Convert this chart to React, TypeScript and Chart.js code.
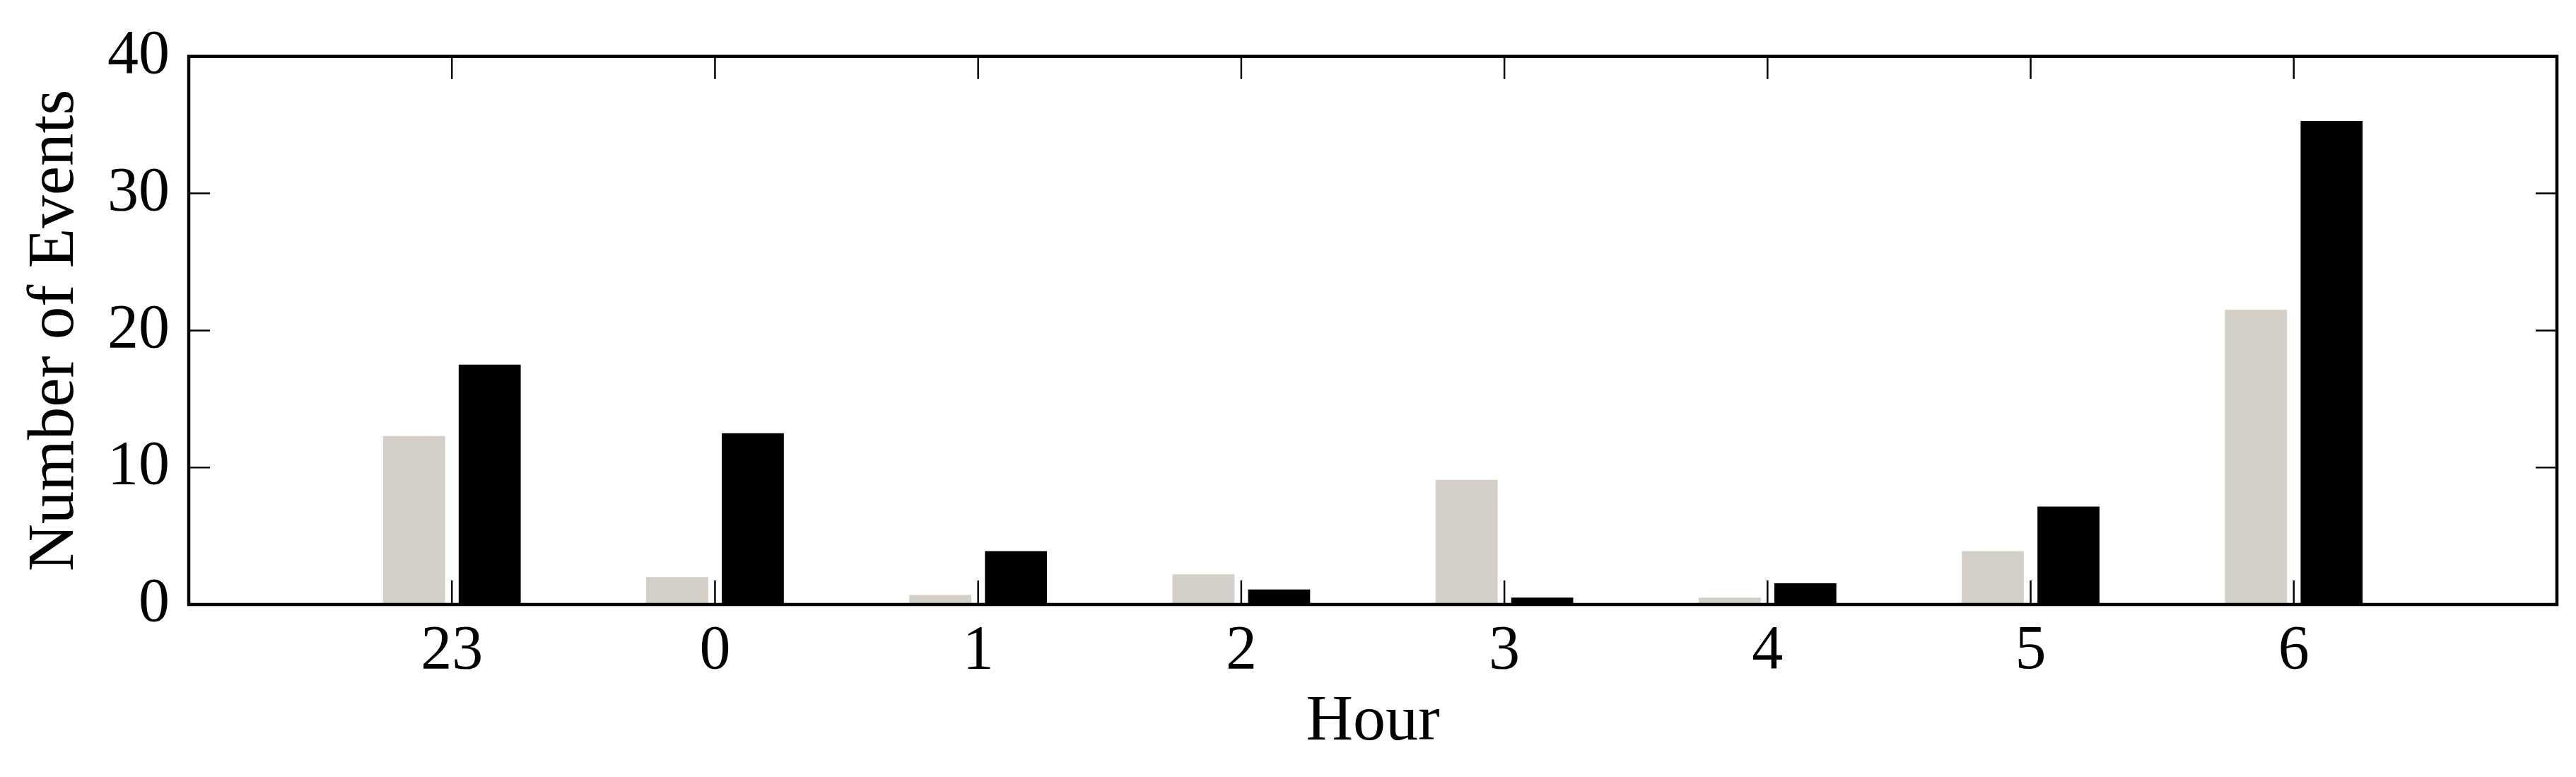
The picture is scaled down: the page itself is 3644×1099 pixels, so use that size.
import React, { useEffect, useRef } from "react";
import { Chart, registerables } from "chart.js";

Chart.register(...registerables);

const hours: string[] = ["23", "0", "1", "2", "3", "4", "5", "6"];
const seriesGray: number[] = [12.3, 2.0, 0.7, 2.2, 9.1, 0.5, 3.9, 21.5];
const seriesBlack: number[] = [17.5, 12.5, 3.9, 1.1, 0.5, 1.55, 7.15, 35.3];
const yTicks: number[] = [0, 10, 20, 30, 40];

const W = 3644;
const H = 1099;
const FONT = "'Liberation Serif', 'Times New Roman', serif";

const framePlugin = {
  id: "frameTicks",
  afterDatasetsDraw(chart: any) {
    const { ctx, chartArea, scales } = chart;
    const { left, right, top, bottom } = chartArea;
    ctx.save();
    ctx.strokeStyle = "#000";
    ctx.lineWidth = 2.5;
    const xs = scales.x;
    xs.ticks.forEach((t: any, i: number) => {
      const lbl = xs.getLabelForValue(t.value);
      if (!lbl) return;
      const px = xs.getPixelForTick(i);
      ctx.beginPath();
      ctx.moveTo(px, bottom);
      ctx.lineTo(px, bottom - 34);
      ctx.moveTo(px, top);
      ctx.lineTo(px, top + 32);
      ctx.stroke();
    });
    const ys = scales.y;
    ys.ticks.forEach((t: any, i: number) => {
      const py = ys.getPixelForTick(i);
      ctx.beginPath();
      ctx.moveTo(left, py);
      ctx.lineTo(left + 30, py);
      ctx.moveTo(right, py);
      ctx.lineTo(right - 30, py);
      ctx.stroke();
    });
    ctx.lineWidth = 4.5;
    ctx.strokeRect(left, top, right - left, bottom - top);
    ctx.restore();
  },
};

export default function App() {
  const ref = useRef<HTMLCanvasElement | null>(null);
  useEffect(() => {
    document.body.style.margin = "0";
    const labels = ["", ...hours, ""];
    const gray = [null, ...seriesGray, null];
    const black = [null, ...seriesBlack, null];
    const chart = new Chart(ref.current as HTMLCanvasElement, {
      type: "bar",
      data: {
        labels,
        datasets: [
          {
            label: "A",
            data: gray as any,
            backgroundColor: "#d4d0c8",
            categoryPercentage: 0.575,
            barPercentage: 0.82,
          },
          {
            label: "B",
            data: black as any,
            backgroundColor: "#000000",
            categoryPercentage: 0.575,
            barPercentage: 0.82,
          },
        ],
      },
      options: {
        animation: false,
        responsive: false,
        maintainAspectRatio: false,
        layout: { padding: { top: 66, right: 27, left: 0, bottom: 0 } },
        plugins: {
          legend: { display: false },
          tooltip: { enabled: false },
        },
        scales: {
          x: {
            type: "category",
            offset: false,
            grid: { display: false, drawTicks: false },
            border: { display: false },
            ticks: {
              color: "#000",
              padding: 14,
              maxRotation: 0,
              autoSkip: false,
              font: { family: FONT, size: 88 },
            },
            title: {
              display: true,
              text: "Hour",
              color: "#000",
              font: { family: FONT, size: 92 },
              padding: { top: 0, bottom: 22 },
            },
            afterFit(scale: any) {
              scale.height = H - 855;
            },
          },
          y: {
            min: 0,
            max: 40,
            afterBuildTicks(scale: any) {
              scale.ticks = yTicks.map((v) => ({ value: v }));
            },
            grid: { display: false, drawTicks: false },
            border: { display: false },
            ticks: {
              color: "#000",
              padding: 27,
              font: { family: FONT, size: 88 },
            },
            title: {
              display: true,
              text: "Number of Events",
              color: "#000",
              font: { family: FONT, size: 93 },
              padding: { top: 23, bottom: 0 },
            },
            afterFit(scale: any) {
              scale.width = 267;
            },
          },
        },
      },
      plugins: [framePlugin],
    });
    return () => chart.destroy();
  }, []);
  return (
    <div style={{ position: "absolute", left: 0, top: 0, width: W, height: H, background: "#fff" }}>
      <canvas ref={ref} width={W} height={H} style={{ width: W, height: H, display: "block" }} />
    </div>
  );
}
